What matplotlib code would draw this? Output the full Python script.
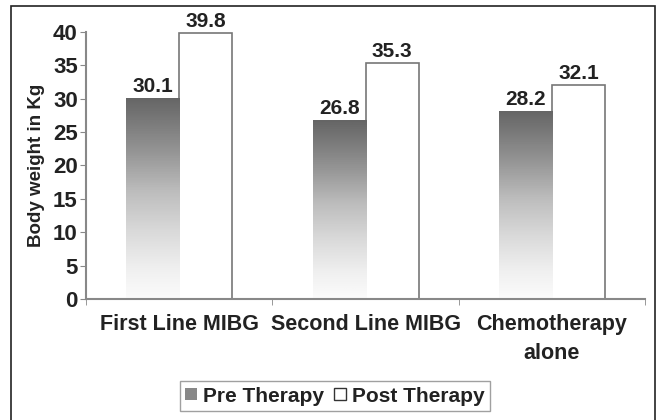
import numpy as np
import matplotlib.pyplot as plt
from matplotlib.patches import Rectangle, Patch

plt.rcParams['font.family'] = ['Liberation Sans', 'DejaVu Sans']
plt.rcParams['font.weight'] = 'bold'

categories = ["First Line MIBG", "Second Line MIBG", "Chemotherapy\nalone"]
pre_therapy = [30.1, 26.8, 28.2]
post_therapy = [39.8, 35.3, 32.1]
yticks = [0, 5, 10, 15, 20, 25, 30, 35, 40]

fig = plt.figure(figsize=(6.57, 4.2), dpi=100)
fig.patch.set_facecolor("white")
# outer frame
fig.add_artist(Rectangle((0.017, -0.02), 0.98, 1.005, transform=fig.transFigure,
                         fill=False, edgecolor="#222222", linewidth=1.2))

ax = fig.add_axes([0.131, 0.288, 0.851, 0.636])
x = np.arange(len(categories))
w = 0.285

pre_bars = ax.bar(x - w / 2, pre_therapy, w, color="none", edgecolor="none")
post_bars = ax.bar(x + w / 2, post_therapy, w, color="white", edgecolor="#777777", linewidth=1.2)

# gradient fill for pre therapy bars: dark on top, white at bottom
grad = np.linspace(1, 0, 256).reshape(-1, 1)
for b in pre_bars:
    bx, by = b.get_x(), b.get_y()
    bw, bh = b.get_width(), b.get_height()
    im = ax.imshow(grad, cmap="Greys", vmin=-0.05, vmax=1.5, aspect="auto",
                   extent=[bx, bx + bw, by, by + bh], origin="upper", zorder=2)
    im.set_clip_path(b)

for bars, vals in ((pre_bars, pre_therapy), (post_bars, post_therapy)):
    for b, v in zip(bars, vals):
        ax.text(b.get_x() + b.get_width() / 2, v + 0.3, f"{v}", ha="center", va="bottom",
                fontsize=15, color="#222222", fontweight="bold", zorder=3)

ax.set_xlim(-0.5, len(categories) - 0.5)
ax.set_ylim(0, 40)
ax.set_yticks(yticks)
ax.set_xticks(x)
ax.set_xticklabels(categories, fontsize=15.5, color="#222222", linespacing=1.45)
ax.set_xticks(np.arange(len(categories) + 1) - 0.5, minor=True)
ax.tick_params(axis="x", which="major", length=0, pad=11)
ax.tick_params(axis="x", which="minor", length=4, direction="out", color="#888888")
ax.tick_params(axis="y", length=4, color="#888888", labelsize=16, labelcolor="#222222", pad=2)
for s in ("top", "right"):
    ax.spines[s].set_visible(False)
for s in ("left", "bottom"):
    ax.spines[s].set_color("#888888")
    ax.spines[s].set_linewidth(1.5)
ax.set_ylabel("Body weight in Kg", fontsize=13.5, color="#222222", fontweight="bold", labelpad=6)

handles = [Patch(facecolor="#888888", edgecolor="none", label="Pre Therapy"),
           Patch(facecolor="white", edgecolor="#333333", label="Post Therapy")]
leg = fig.legend(handles=handles, loc="center", bbox_to_anchor=(0.51, 0.057), ncol=2,
                 fontsize=15, frameon=True, fancybox=False, edgecolor="#888888",
                 handlelength=0.55, handleheight=0.55, handletextpad=0.3, columnspacing=0.5,
                 borderpad=0.25)
for t in leg.get_texts():
    t.set_color("#222222")

fig.savefig("out.png", dpi=100)
